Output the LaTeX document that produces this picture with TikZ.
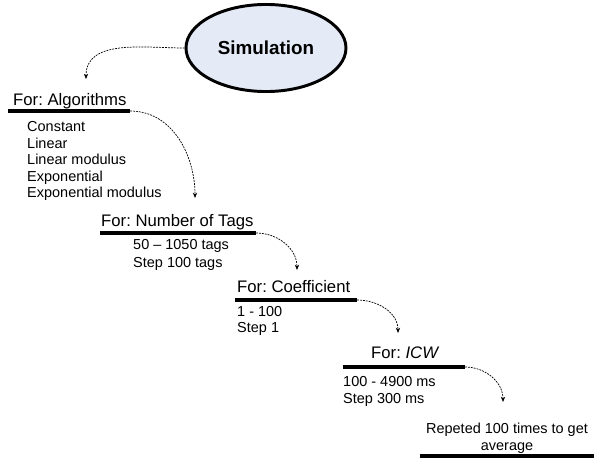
\documentclass[tikz,border=0pt]{standalone}
\usepackage{fontspec}
\setmainfont{Liberation Sans}
\usepackage{tikz}
\usetikzlibrary{shapes.geometric,arrows.meta}
\definecolor{simfill}{RGB}{228,234,246}
\frenchspacing

\tikzset{
    heading/.style={anchor=base west, inner sep=0pt, font=\fontsize{14.2}{16}\selectfont},
    itemtext/.style={anchor=base west, inner sep=0pt, font=\fontsize{12.3}{14}\selectfont},
    underline/.style={line width=3.2pt},
    flow/.style={line width=0.6pt, dash pattern=on 1.6pt off 0.9pt, -{Stealth[length=4.5pt,width=3.6pt]}}
}

\begin{document}
\begin{tikzpicture}[x=0.85pt, y=-0.85pt]
    \useasboundingbox (0,0) rectangle (594,460);

    % Title
    \node[ellipse, draw, line width=2.5pt, fill=simfill, minimum width=136pt, minimum height=74pt,
          font=\fontsize{16}{18}\selectfont\bfseries] (sim) at (266,48) {Simulation};

    % Algorithms
    \node[heading] (alg) at (13,106) {For: Algorithms};
    \coordinate (algL) at (8,111);
    \coordinate (algR) at (130,111);
    \draw[underline] (algL) -- (algR);
    \foreach \name [count=\i] in {Constant, Linear, Linear modulus, Exponential, Exponential modulus} {
        \node[itemtext] (alg\i) at (27,115.5+16.5*\i) {\name};
    }

    % Number of tags
    \node[heading] (tags) at (101,227) {For: Number of Tags};
    \coordinate (tagsL) at (100,233);
    \coordinate (tagsR) at (256,233);
    \draw[underline] (tagsL) -- (tagsR);
    \node[itemtext] (tags1) at (133,250) {50 -- 1050 tags};
    \node[itemtext] (tags2) at (133,267) {Step 100 tags};

    % Coefficient
    \node[heading] (coef) at (237,292) {For: Coefficient};
    \coordinate (coefL) at (235,300);
    \coordinate (coefR) at (357,300);
    \draw[underline] (coefL) -- (coefR);
    \node[itemtext] (coef1) at (237,316) {1 - 100};
    \node[itemtext] (coef2) at (237,333) {Step 1};

    % ICW
    \node[heading] (icw) at (371,358) {For: \textit{ICW}};
    \coordinate (icwL) at (343,367);
    \coordinate (icwR) at (465,367);
    \draw[underline] (icwL) -- (icwR);
    \node[itemtext] (icw1) at (343,386) {100 - 4900 ms};
    \node[itemtext] (icw2) at (343,403) {Step 300 ms};

    % Repetitions
    \node[itemtext, anchor=base] (rep1) at (507,433) {Repeted 100 times to get};
    \node[itemtext, anchor=base] (rep2) at (507,450) {average};
    \coordinate (repL) at (420,456);
    \coordinate (repR) at (594,456);
    \draw[underline] (repL) -- (repR);

    % Arrow ends
    \coordinate (algIn) at (86,79);
    \coordinate (tagsIn) at (195,198);
    \coordinate (coefIn) at (297,270);
    \coordinate (icwIn) at (398,333);
    \coordinate (repIn) at (503,402);

    % Flow
    \draw[flow] (sim.west) to[out=180, in=90] (algIn);
    \draw[flow] (algR) to[out=0, in=90] (tagsIn);
    \draw[flow] (tagsR) to[out=0, in=90] (coefIn);
    \draw[flow] (coefR) to[out=0, in=90] (icwIn);
    \draw[flow] (icwR) to[out=0, in=90] (repIn);
\end{tikzpicture}
\end{document}
